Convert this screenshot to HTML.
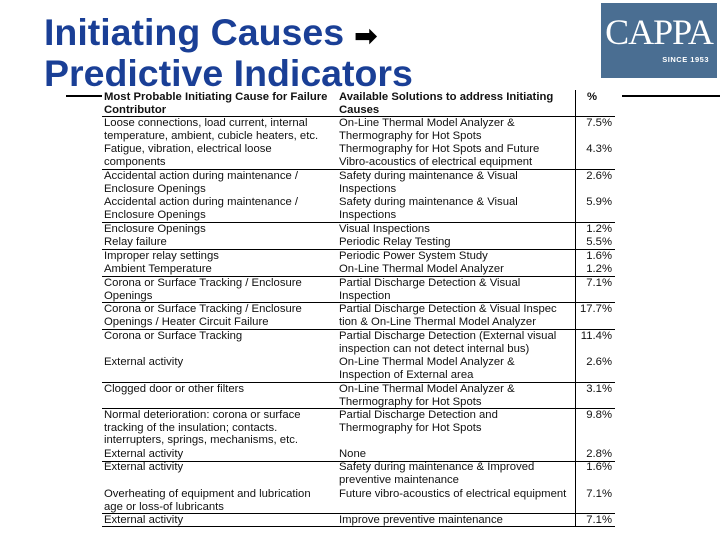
<!DOCTYPE html>
<html><head><meta charset="utf-8"><style>
body{margin:0;width:720px;height:540px;background:#fff;position:relative;overflow:hidden;font-family:"Liberation Sans",Arial,sans-serif}
.t{position:absolute;font-size:11.3px;line-height:12.5px;color:#111;white-space:nowrap}
.b{font-weight:bold}
.h{position:absolute;height:1px;background:#000;left:102px;width:513px}
.title{position:absolute;left:44px;font-weight:bold;font-size:37.5px;color:#1a3f96;line-height:42px;white-space:nowrap}
</style></head><body>
<div class="title" style="top:11px">Initiating Causes <span style="color:#000;font-size:27px">➡</span></div>
<div class="title" style="top:52px">Predictive Indicators</div>
<div style="position:absolute;left:601px;top:3px;width:116px;height:75px;background:#4a6e92">
<div style="position:absolute;left:0;width:116px;top:10px;text-align:center;color:#fff;font-family:'Liberation Serif',serif;font-size:36px;line-height:38px;letter-spacing:-1px">CAPPA</div>
<div style="position:absolute;right:8px;top:52px;color:#fff;font-size:7.5px;font-weight:bold;letter-spacing:0.5px">SINCE 1953</div></div>
<div style="position:absolute;left:66px;top:95px;width:36px;height:2px;background:#000"></div>
<div style="position:absolute;left:622px;top:95px;width:98px;height:2px;background:#000"></div>
<div style="position:absolute;left:575px;top:90px;width:1px;height:436px;background:#000"></div>
<div id="tbl"></div>
<script>
const rows=[
[90,["Most Probable Initiating Cause for Failure","Contributor"],["Available Solutions to address Initiating","Causes"],"%",true],
[116,["Loose connections, load current, internal","temperature, ambient, cubicle heaters, etc."],["On-Line Thermal Model Analyzer &","Thermography for Hot Spots"],"7.5%"],
[142,["Fatigue, vibration, electrical loose","components"],["Thermography for Hot Spots and Future","Vibro-acoustics of electrical equipment"],"4.3%"],
[169,["Accidental action during maintenance /","Enclosure Openings"],["Safety during maintenance & Visual","Inspections"],"2.6%"],
[195,["Accidental action during maintenance /","Enclosure Openings"],["Safety during maintenance & Visual","Inspections"],"5.9%"],
[222,["Enclosure Openings"],["Visual Inspections"],"1.2%"],
[235,["Relay failure"],["Periodic Relay Testing"],"5.5%"],
[249,["Improper relay settings"],["Periodic Power System Study"],"1.6%"],
[262,["Ambient Temperature"],["On-Line Thermal Model Analyzer"],"1.2%"],
[276,["Corona or Surface Tracking / Enclosure","Openings"],["Partial Discharge Detection & Visual","Inspection"],"7.1%"],
[302,["Corona or Surface Tracking / Enclosure","Openings / Heater Circuit Failure"],["Partial Discharge Detection & Visual  Inspec","tion & On-Line Thermal Model Analyzer"],"17.7%"],
[329,["Corona or Surface Tracking"],["Partial Discharge Detection (External visual","inspection can not detect internal bus)"],"11.4%"],
[355,["External activity"],["On-Line Thermal Model Analyzer &","Inspection of External area"],"2.6%"],
[382,["Clogged door or other filters"],["On-Line Thermal Model Analyzer &","Thermography for Hot Spots"],"3.1%"],
[408,["Normal deterioration: corona or surface","tracking of the insulation; contacts.","interrupters, springs, mechanisms, etc."],["Partial Discharge Detection and","Thermography for Hot Spots"],"9.8%"],
[447,["External activity"],["None"],"2.8%"],
[460,["External activity"],["Safety during maintenance & Improved","preventive maintenance"],"1.6%"],
[487,["Overheating of equipment and lubrication","age or loss-of lubricants"],["Future vibro-acoustics of electrical equipment"],"7.1%"],
[513,["External activity"],["Improve preventive maintenance"],"7.1%"]];
const lines=[116,169,222,249,276,302,329,382,408,461,513,526];
const T=document.getElementById('tbl');
function esc(s){return s.replace(/&/g,'&amp;')}
rows.forEach((r,i)=>{
 const y=r[0]+1;
 const a=document.createElement('div');a.className='t'+(r[4]?' b':'');a.style.left='104px';a.style.top=y+'px';a.innerHTML=r[1].map(esc).join('<br>');
 
 
 T.appendChild(a);
 const b=document.createElement('div');b.className='t'+(r[4]?' b':'');b.style.left='339px';b.style.top=y+'px';b.innerHTML=r[2].map(esc).join('<br>');
 
 
 T.appendChild(b);
 const c=document.createElement('div');c.className='t'+(r[4]?' b':'');c.style.top=y+'px';
 if(r[4]){c.style.left='587px';}else{c.style.right='108px';}
 c.textContent=r[3];
 
 
 T.appendChild(c);
});
lines.forEach(y=>{const l=document.createElement('div');l.className='h';l.style.top=y+'px';
 
 
 T.appendChild(l);});
</script>
</body></html>
